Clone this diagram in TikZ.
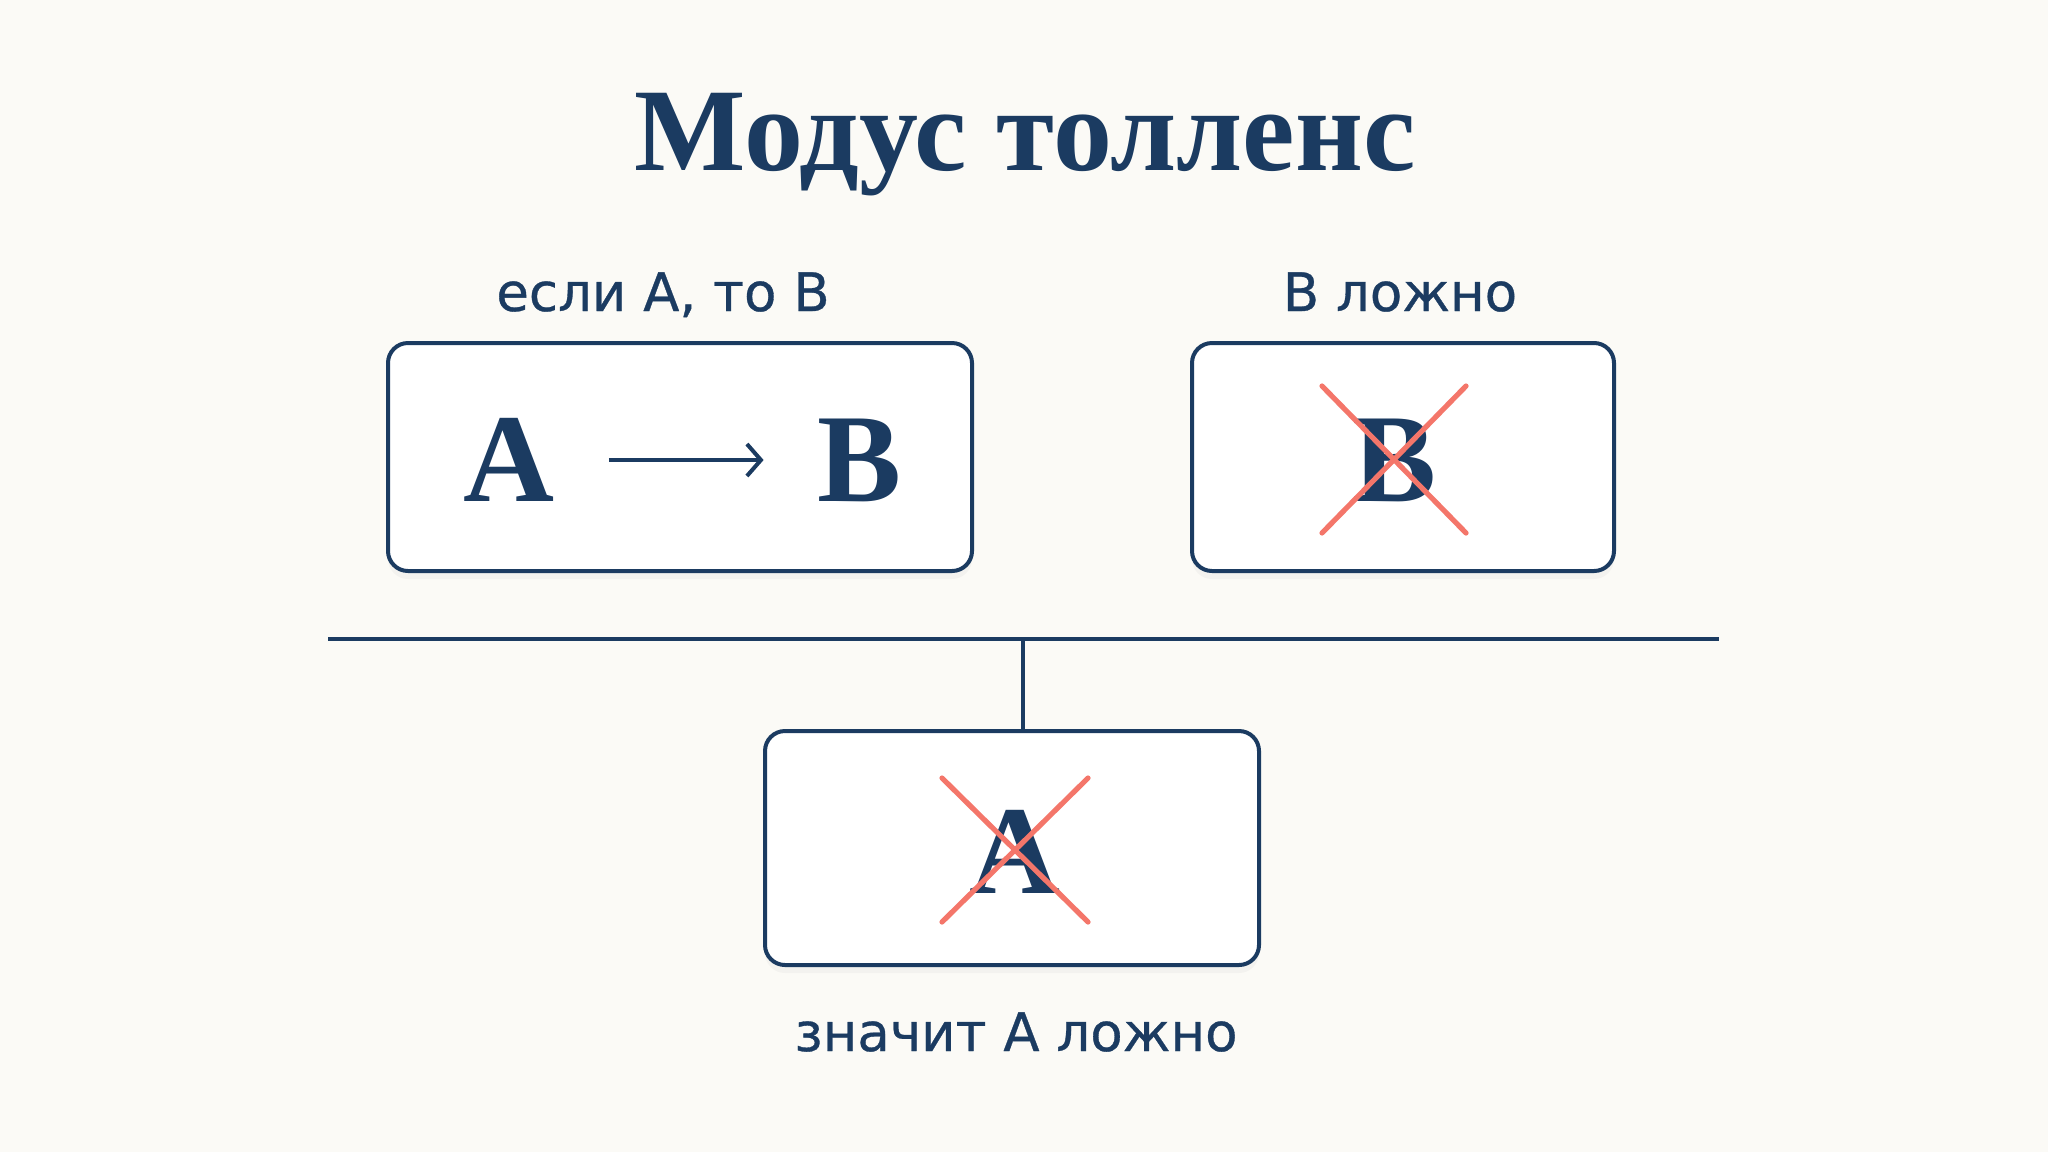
\documentclass[tikz,border=0pt]{standalone}
\usepackage{fontspec}
\setmainfont{Liberation Serif}
\newfontfamily\labelfont[FakeBold=0.6]{DejaVu Sans}
\usepackage{tikz}
\usetikzlibrary{arrows.meta, shadows}
\definecolor{navy}{RGB}{27, 59, 97}
\definecolor{cross}{RGB}{244, 118, 106}
\definecolor{paper}{RGB}{251, 250, 246}

\begin{document}
\begin{tikzpicture}[x=0.5pt, y=-0.5pt,
    premise/.style={draw=navy, line width=2pt, rounded corners=10pt, fill=white,
      drop shadow={opacity=0.06, shadow xshift=0pt, shadow yshift=-4pt}},
    letter/.style={text=navy, inner sep=0pt, font=\fontsize{63}{63}\selectfont\bfseries},
    caption/.style={text=navy, anchor=base, font=\labelfont\fontsize{26.5}{26.5}\selectfont},
    strike/.style={draw=cross, line width=2.6pt, line cap=round}]

  \fill[paper] (0, 0) rectangle (2048, 1152);
  \useasboundingbox (0, 0) rectangle (2048, 1152);

  \node[text=navy, anchor=base, font=\fontsize{59}{59}\selectfont\bfseries]
    (title) at (1025, 170) {Модус толленс};

  % premises
  \node[premise, minimum width=292pt, minimum height=114pt] (implbox) at (680, 457) {};
  \node[caption] (impllabel) at (663, 311) {если A, то B};
  \node[letter] (ante) at (509, 460) {A};
  \node[letter] (cons) at (860, 460) {B};
  \draw[navy, line width=2pt, shorten <=27pt, shorten >=27pt,
    -{Straight Barb[length=7pt, width=16pt, line width=2pt]}] (ante.east) -- (cons.west);

  \node[premise, minimum width=211pt, minimum height=114pt] (negbox) at (1403, 457) {};
  \node[caption] (neglabel) at (1400, 311) {B ложно};
  \node[letter] (negb) at (1394, 460) {B};
  \draw[strike] (negb.center) ++(-72, -74) coordinate (nb1) -- ++(144, 147);
  \draw[strike] (negb.center) ++(72, -74) coordinate (nb2) -- ++(-144, 147);

  % inference line
  \coordinate (left) at (328, 639);
  \coordinate (right) at (1719, 639);
  \coordinate (stem) at (1023, 639);
  \draw[navy, line width=2pt] (left) -- (right);

  % conclusion
  \node[premise, minimum width=247pt, minimum height=117pt] (concbox) at (1012, 848) {};
  \draw[navy, line width=2pt] (stem) -- (stem |- concbox.north);
  \node[letter] (nega) at (1015, 852) {A};
  \draw[strike] (nega.center) ++(-73, -74) coordinate (na1) -- ++(146, 144);
  \draw[strike] (nega.center) ++(73, -74) coordinate (na2) -- ++(-146, 144);
  \node[caption] (conclabel) at (1016, 1051) {значит A ложно};

\end{tikzpicture}
\end{document}
